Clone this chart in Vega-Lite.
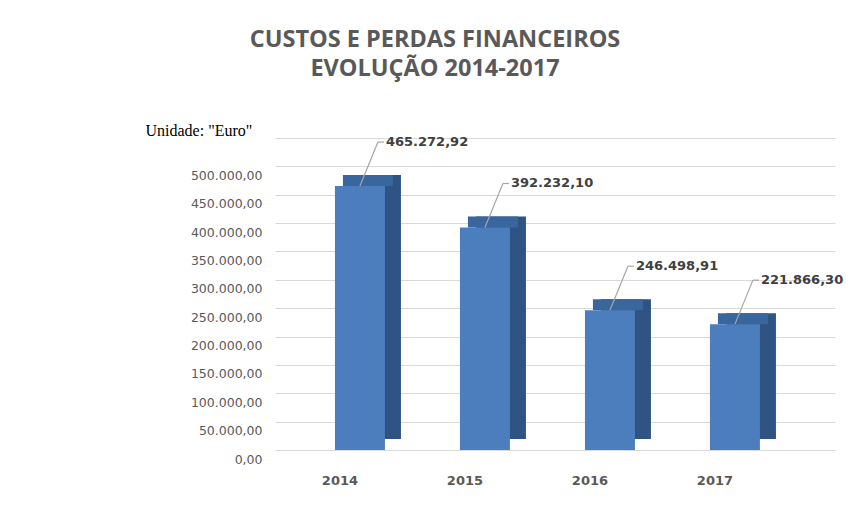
{
  "$schema": "https://vega.github.io/schema/vega-lite/v6.json",
  "autosize": {"type": "none"},
  "padding": {"left": 275, "top": 138, "right": 18, "bottom": 77},
  "width": 560,
  "height": 312,
  "background": "white",
  "config": {
    "locale": {"number": {"decimal": ",", "thousands": ".", "grouping": [3], "currency": ["€", ""]}},
    "view": {"stroke": null}
  },
  "title": {
    "text": ["CUSTOS E PERDAS FINANCEIROS", "EVOLUÇÃO 2014-2017"],
    "font": "Open Sans",
    "fontWeight": "bold",
    "fontSize": 23.5,
    "color": "#595959",
    "lineHeight": 29,
    "anchor": "middle",
    "dx": -120,
    "offset": 42
  },
  "data": {
    "values": [
      {"year": "2014", "value": 465272.92},
      {"year": "2015", "value": 392232.10},
      {"year": "2016", "value": 246498.91},
      {"year": "2017", "value": 221866.30}
    ]
  },
  "encoding": {
    "x": {
      "field": "year",
      "type": "nominal",
      "scale": {"paddingInner": 0.6, "paddingOuter": 0.54, "align": 0.444},
      "axis": {
        "title": null,
        "labelAngle": 0,
        "domain": false,
        "ticks": false,
        "labelOffset": -20,
        "labelPadding": 24,
        "labelFont": "DejaVu Sans",
        "labelFontWeight": "bold",
        "labelFontSize": 13,
        "labelColor": "#595959"
      }
    },
    "y": {
      "field": "value",
      "type": "quantitative",
      "scale": {"domain": [0, 550000], "nice": false},
      "axis": {
        "values": [0, 50000, 100000, 150000, 200000, 250000, 300000, 350000, 400000, 450000, 500000, 550000],
        "format": ",.2f",
        "labelExpr": "datum.value > 500000 ? '' : datum.label",
        "domain": false,
        "ticks": false,
        "labelOffset": 9,
        "labelPadding": 13,
        "labelFont": "DejaVu Sans",
        "labelFontSize": 12.5,
        "labelColor": "#595959",
        "gridColor": "#d9d9d9",
        "gridWidth": 1,
        "title": "Unidade: \"Euro\"",
        "titleAngle": 0,
        "titleAlign": "left",
        "titleBaseline": "alphabetic",
        "titleX": -130,
        "titleY": -3,
        "titleFont": "Liberation Serif",
        "titleFontSize": 16,
        "titleFontWeight": "normal",
        "titleColor": "#000000"
      }
    }
  },
  "layer": [
    {
      "mark": {"type": "bar", "color": "#2f5383", "xOffset": 16, "yOffset": -11}
    },
    {
      "mark": {"type": "bar", "color": "#3a669e", "xOffset": 8, "yOffset": -11, "y2Offset": 0},
      "encoding": {"y2": {"field": "value"}}
    },
    {
      "mark": {"type": "bar", "color": "#4c7ebd"}
    },
    {
      "mark": {"type": "rule", "color": "#a6a6a6", "strokeWidth": 1.2, "x2Offset": 18, "y2Offset": -44},
      "encoding": {
        "x": {"field": "year", "type": "nominal", "bandPosition": 0.5},
        "x2": {"field": "year", "bandPosition": 0.5},
        "y2": {"field": "value"}
      }
    },
    {
      "mark": {"type": "rule", "color": "#a6a6a6", "strokeWidth": 1.2, "xOffset": 18, "x2Offset": 24, "yOffset": -44, "y2Offset": -44},
      "encoding": {
        "x": {"field": "year", "type": "nominal", "bandPosition": 0.5},
        "x2": {"field": "year", "bandPosition": 0.5},
        "y2": {"field": "value"}
      }
    },
    {
      "mark": {"type": "text", "align": "left", "baseline": "middle", "dx": 26, "dy": -44, "font": "DejaVu Sans", "fontWeight": "bold", "fontSize": 13, "color": "#404040"},
      "encoding": {
        "x": {"field": "year", "type": "nominal", "bandPosition": 0.5},
        "text": {"field": "value", "type": "quantitative", "format": ",.2f"}
      }
    }
  ]
}
